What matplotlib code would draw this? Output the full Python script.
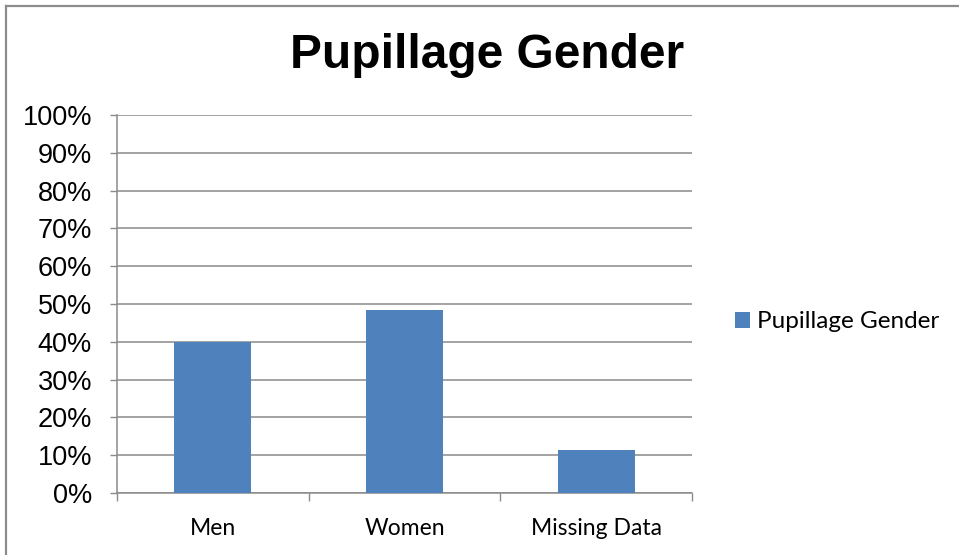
import matplotlib
matplotlib.use("Agg")
import matplotlib.pyplot as plt
from matplotlib.lines import Line2D
from matplotlib.patches import Patch
from matplotlib.ticker import FixedLocator, PercentFormatter

# ── Données ───────────────────────────────────────────────────────────────────
categories = ["Men", "Women", "Missing Data"]
shares = [0.40, 0.485, 0.113]
y_ticks = [0.0, 0.1, 0.2, 0.3, 0.4, 0.5, 0.6, 0.7, 0.8, 0.9, 1.0]
series_name = "Pupillage Gender"
title = "Pupillage Gender"

BAR_COLOR = "#4F81BD"
GRID_COLOR = "#8a8a8a"
W, H = 959, 555

fig = plt.figure(figsize=(W / 100, H / 100), dpi=100)
fig.patch.set_facecolor("white")

# zone de tracé (en pixels : x 117→692, y 115→493)
ax = fig.add_axes([117 / W, (H - 493) / H, (692 - 117) / W, (493 - 115) / H])

x = range(len(categories))
ax.bar(x, shares, width=0.4, color=BAR_COLOR, zorder=3)

ax.set_xlim(-0.5, len(categories) - 0.5)
ax.set_ylim(0, 1)
ax.set_yticks(y_ticks)
ax.yaxis.set_major_formatter(PercentFormatter(1.0, decimals=0))
ax.yaxis.grid(True, color=GRID_COLOR, linewidth=1.1, zorder=0)

ax.set_xticks(list(x))
ax.set_xticklabels(categories, family=["Lato", "DejaVu Sans"], fontsize=16.5)
ax.tick_params(axis="x", length=0, pad=18)
ax.xaxis.set_minor_locator(FixedLocator([-0.5, 0.5, 1.5, 2.5]))
ax.tick_params(axis="x", which="minor", length=6, width=1, color=GRID_COLOR,
               direction="out")

for lab in ax.get_yticklabels():
    lab.set_family(["Liberation Sans", "DejaVu Sans"])
    lab.set_fontsize(19.5)
ax.tick_params(axis="y", length=5, width=1, color=GRID_COLOR, pad=13,
               direction="out")

for side in ("top", "right"):
    ax.spines[side].set_visible(False)
for side in ("left", "bottom"):
    ax.spines[side].set_color(GRID_COLOR)
    ax.spines[side].set_linewidth(1.1)

fig.text(487 / W, 1 - 55 / H, title, ha="center", va="center",
         family=["Liberation Sans", "DejaVu Sans"], fontweight="bold",
         fontsize=34.5)

# légende à droite
handle = Patch(facecolor=BAR_COLOR, edgecolor="none", label=series_name)
fig.legend(handles=[handle], loc="center left",
           bbox_to_anchor=(725 / W, 1 - 322 / H), frameon=False,
           prop={"family": ["Lato", "DejaVu Sans"], "size": 17.5},
           handlelength=0.62, handleheight=0.62, handletextpad=0.3,
           borderaxespad=0)

# bordure du graphique (haut et gauche)
fig.add_artist(Line2D([6 / W, 1], [1 - 6 / H, 1 - 6 / H],
                      transform=fig.transFigure, color="#8c8c8c", linewidth=1.6))
fig.add_artist(Line2D([6 / W, 6 / W], [0, 1 - 6 / H],
                      transform=fig.transFigure, color="#8c8c8c", linewidth=1.6))

fig.savefig("out.png", dpi=100)
